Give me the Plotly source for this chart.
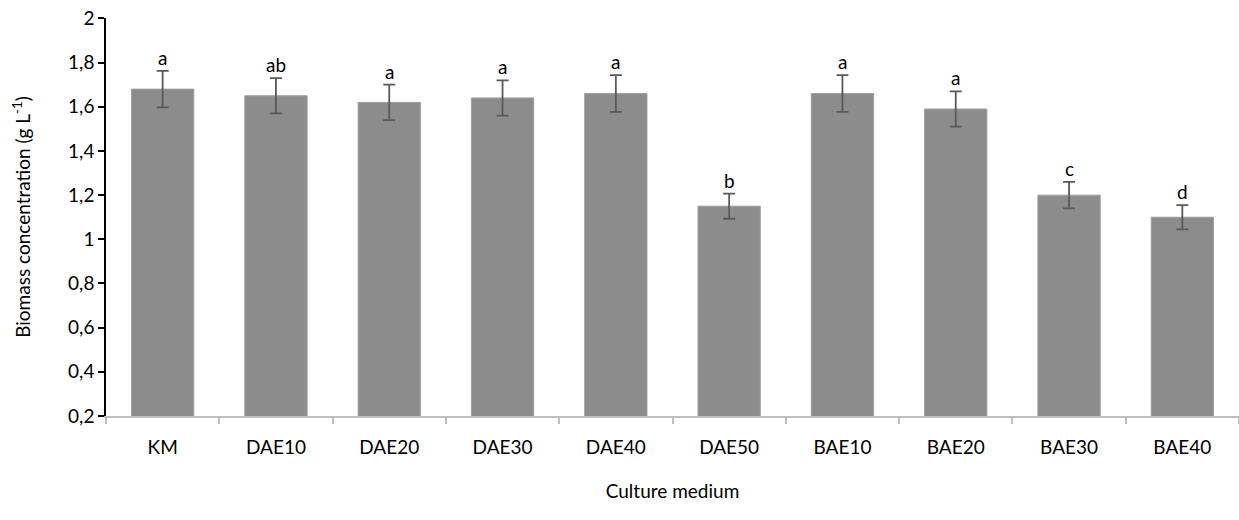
import plotly.graph_objects as go

categories = ["KM", "DAE10", "DAE20", "DAE30", "DAE40", "DAE50", "BAE10", "BAE20", "BAE30", "BAE40"]
biomass = [1.68, 1.65, 1.62, 1.64, 1.66, 1.15, 1.66, 1.59, 1.20, 1.10]
errors = [0.083, 0.08, 0.08, 0.08, 0.083, 0.057, 0.083, 0.08, 0.06, 0.055]
letters = ["a", "ab", "a", "a", "a", "b", "a", "a", "c", "d"]
y_tickvals = [0.2, 0.4, 0.6, 0.8, 1.0, 1.2, 1.4, 1.6, 1.8, 2.0]
y_ticktext = ["0,2", "0,4", "0,6", "0,8", "1", "1,2", "1,4", "1,6", "1,8", "2"]

FONT = "Lato, 'Open Sans', sans-serif"

fig = go.Figure()
fig.add_trace(go.Bar(
    x=categories, y=biomass,
    marker=dict(color="#8c8c8c", line=dict(color="#a0a0a0", width=1)),
    width=0.55,
    error_y=dict(type="data", array=errors, visible=True, color="#595959", thickness=1.8, width=6),
))

for c, v, e, t in zip(categories, biomass, errors, letters):
    fig.add_annotation(x=c, y=v + e, text=t, showarrow=False, yanchor="bottom", yshift=0,
                       font=dict(family=FONT, size=19, color="#000000"))

fig.update_layout(
    width=1239, height=520,
    margin=dict(l=106, r=0, t=18, b=104),
    plot_bgcolor="white", paper_bgcolor="white",
    showlegend=False,
    font=dict(family=FONT, size=19, color="#000000"),
    bargap=0.45,
    xaxis=dict(
        automargin=False,
        showline=True, linecolor="#bfbfbf", linewidth=2,
        ticks="outside", tickson="boundaries", ticklen=6, tickcolor="#bfbfbf", tickwidth=2,
        showgrid=False,
        tickfont=dict(family=FONT, size=19),
        ticklabelstandoff=13,
        title=dict(text="Culture medium", standoff=28, font=dict(family=FONT, size=19)),
    ),
    yaxis=dict(
        automargin=False,
        range=[0.2, 2.002],
        showline=True, linecolor="#000000", linewidth=1.5,
        ticks="outside", ticklen=6, tickcolor="#000000", tickwidth=1.5,
        tickvals=y_tickvals, ticktext=y_ticktext,
        ticklabeloverflow="allow",
        showgrid=False, zeroline=False,
        tickfont=dict(family=FONT, size=19),
        title=dict(text="Biomass concentration (g L<sup>-1</sup>)", standoff=32, font=dict(family=FONT, size=19)),
    ),
)

fig.write_html("out.html", config={"displayModeBar": False},
               post_script="document.body.style.margin='0';")
